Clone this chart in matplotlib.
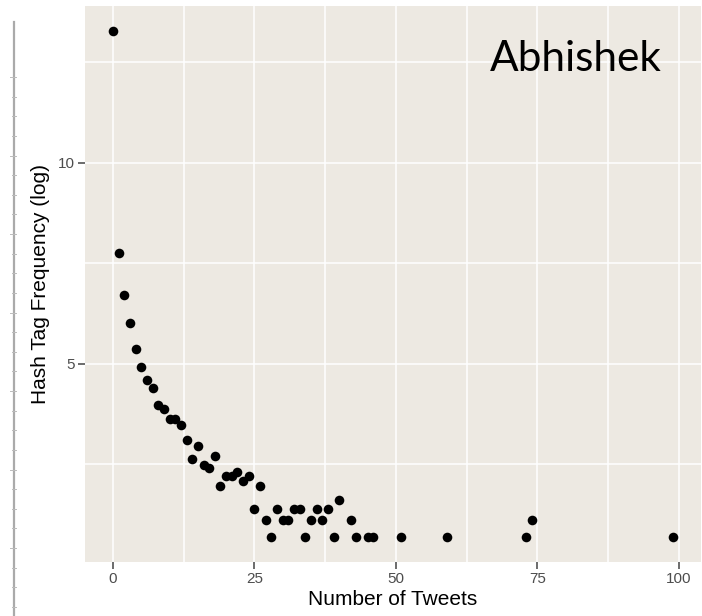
import matplotlib
matplotlib.use("Agg")
import matplotlib.pyplot as plt
from matplotlib.lines import Line2D
import numpy as np

# ── データ ────────────────────────────────────────────────────────
tweets = [0, 1, 2, 3, 4, 5, 6, 7, 8, 9, 10, 11, 12, 13, 14, 15, 16, 17, 18, 19,
          20, 21, 22, 23, 24, 25, 26, 27, 28, 29, 30, 31, 32, 33, 34, 35, 36,
          37, 38, 39, 40, 42, 43, 45, 46, 51, 59, 73, 74, 99]
freq_log = [13.28, 7.76, 6.70, 6.00, 5.36, 4.92, 4.60, 4.39, 3.96, 3.86,
            3.61, 3.61, 3.46, 3.09, 2.63, 2.94, 2.48, 2.40, 2.70, 1.95,
            2.20, 2.20, 2.30, 2.08, 2.20, 1.39, 1.95, 1.10, 0.69, 1.39,
            1.10, 1.10, 1.39, 1.39, 0.69, 1.10, 1.39, 1.10, 1.39, 0.69,
            1.61, 1.10, 0.69, 0.69, 0.69, 0.69, 0.69, 0.69, 1.10, 0.69]

x_ticks = [0, 25, 50, 75, 100]
y_ticks = [5, 10]
x_label = "Number of Tweets"
y_label = "Hash Tag Frequency (log)"
name_text = "Abhishek"

W, H = 702, 616
PANEL = "#EDE9E2"


def draw_ruler(fig):
    # 左端のスライド定規（スクリーンショットの名残）
    x = 14 / W
    fig.add_artist(Line2D([x, x], [0, 1 - 22 / H], color="#AAAAAA",
                          linewidth=1.6, transform=fig.transFigure))
    for i, yp in enumerate(np.arange(77, H, 78.5 / 4)):
        ln = 4 if i % 4 == 0 else 2
        fig.add_artist(Line2D([(14 - ln) / W, (14 + 2) / W],
                              [1 - yp / H, 1 - yp / H], color="#BBBBBB",
                              linewidth=0.7, transform=fig.transFigure))


def main():
    fig = plt.figure(figsize=(W / 100, H / 100), dpi=100)
    ax = fig.add_axes([85 / W, (H - 562) / H, 616 / W, 556.2 / H])
    ax.set_facecolor(PANEL)

    ax.scatter(tweets, freq_log, s=48, color="black", zorder=3, linewidths=0)

    # ggplot 風の 5% 拡張
    xr = max(tweets) - min(tweets)
    yr = max(freq_log) - min(freq_log)
    ax.set_xlim(min(tweets) - 0.05 * xr, max(tweets) + 0.05 * xr)
    ax.set_ylim(min(freq_log) - 0.05 * yr, max(freq_log) + 0.05 * yr)

    ax.set_xticks(x_ticks)
    ax.set_yticks(y_ticks)
    ax.set_xticks([12.5, 37.5, 62.5, 87.5], minor=True)
    ax.set_yticks([2.5, 7.5, 12.5], minor=True)
    ax.grid(True, which="both", color="white", linewidth=1.1)
    ax.set_axisbelow(True)
    for s in ax.spines.values():
        s.set_visible(False)
    ax.tick_params(which="major", length=5, width=1.1, color="#444444",
                   labelcolor="#4D4D4D", labelsize=11, pad=2)
    ax.tick_params(which="minor", length=0)
    for lab in ax.get_xticklabels() + ax.get_yticklabels():
        lab.set_family("Liberation Sans")

    ax.set_xlabel(x_label, fontsize=15, family="Liberation Sans", labelpad=3)
    ax.set_ylabel(y_label, fontsize=15, family="Liberation Sans", labelpad=6)

    fig.text(490 / W, 1 - 70.7 / H, name_text, fontsize=30.5, family="Lato",
             ha="left", va="baseline", color="black")

    draw_ruler(fig)
    fig.savefig("out.png", dpi=100)
    plt.close(fig)


if __name__ == "__main__":
    main()
